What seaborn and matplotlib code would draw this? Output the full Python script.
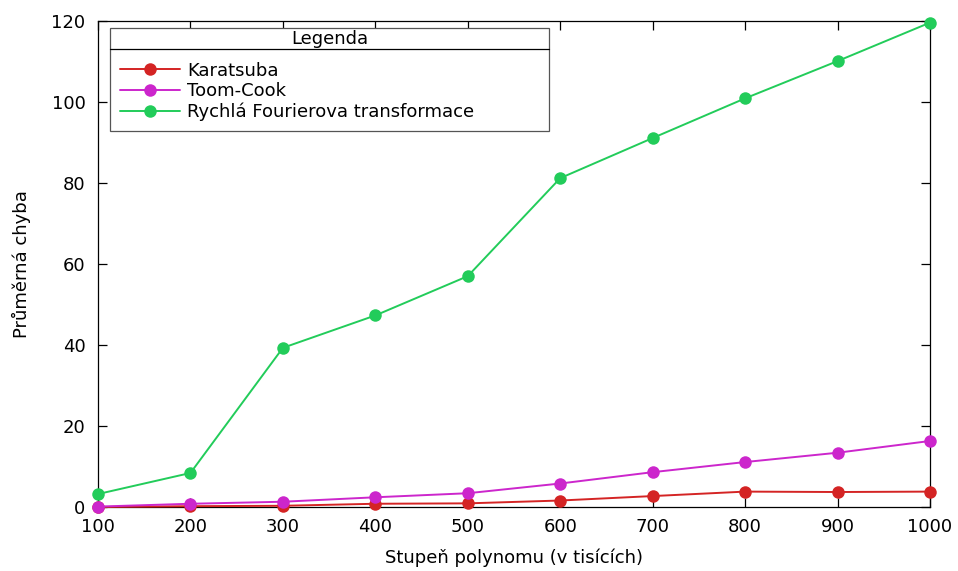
import numpy as np
import pandas as pd
import matplotlib
matplotlib.use("Agg")
import matplotlib.pyplot as plt
from matplotlib.lines import Line2D
from matplotlib.patches import Rectangle
import seaborn as sns

# Degree of the polynomial (thousands)
degrees = [100, 200, 300, 400, 500, 600, 700, 800, 900, 1000]

# Mean error per multiplication method
karatsuba = [0.0, 0.2, 0.3, 0.8, 0.9, 1.6, 2.7, 3.8, 3.7, 3.8]
toom_cook = [0.1, 0.8, 1.3, 2.4, 3.4, 5.8, 8.6, 11.1, 13.4, 16.3]
fft = [3.2, 8.4, 39.3, 47.3, 57.0, 81.2, 91.1, 100.9, 110.1, 119.6]

methods = ["Karatsuba", "Toom-Cook", "Rychlá Fourierova transformace"]
colors = ["#d42424", "#cc26cc", "#22cc5a"]

y_ticks = [0, 20, 40, 60, 80, 100, 120]

df = pd.DataFrame({
    "degree": degrees * 3,
    "error": karatsuba + toom_cook + fft,
    "method": sum([[m] * len(degrees) for m in methods], []),
})

sns.set_theme(style="ticks")
plt.rcParams.update({
    "font.family": ["DejaVu Sans"],
    "font.size": 13,
    "xtick.direction": "in",
    "ytick.direction": "in",
    "xtick.major.size": 6.5,
    "ytick.major.size": 6.5,
    "xtick.major.width": 0.9,
    "ytick.major.width": 0.9,
    "axes.linewidth": 0.9,
    "axes.edgecolor": "black",
    "xtick.color": "black",
    "ytick.color": "black",
    "text.color": "black",
    "axes.labelcolor": "black",
})

W, H = 958, 571
fig = plt.figure(figsize=(W / 100, H / 100), dpi=100)
ax = fig.add_axes([98 / W, 1 - 507 / H, (930 - 98) / W, (507 - 21) / H])


def fx(px):
    return px / W


def fy(py):
    return 1 - py / H


palette = dict(zip(methods, colors))
sns.lineplot(
    data=df, x="degree", y="error", hue="method", hue_order=methods,
    palette=palette, marker="o", markersize=9, markeredgewidth=0,
    linewidth=1.4, ax=ax, legend=False, clip_on=False, zorder=3,
)

ax.set_xlim(100, 1000)
ax.set_ylim(0, 120)
ax.set_xticks(degrees)
ax.set_yticks(y_ticks)
ax.tick_params(axis="both", labelsize=13, top=True, right=True)
ax.tick_params(axis="x", pad=8)
ax.tick_params(axis="y", pad=9)
ax.set_xlabel("Stupeň polynomu (v tisících)", fontsize=13, labelpad=9)
ax.set_ylabel("Průměrná chyba", fontsize=13, labelpad=15)
for s in ax.spines.values():
    s.set_visible(True)

# Legend box with a titled header row
fig.add_artist(Rectangle((fx(110), fy(131)), fx(549) - fx(110), fy(28) - fy(131),
                         transform=fig.transFigure, facecolor="white",
                         edgecolor="#555555", linewidth=0.9, zorder=5))
fig.add_artist(Line2D([fx(110), fx(549)], [fy(49), fy(49)],
                      transform=fig.transFigure, color="black", linewidth=0.9, zorder=6))
fig.text(fx(329.5), fy(39), "Legenda", ha="center", va="center", fontsize=13, zorder=6)

handles = [
    Line2D([], [], color=c, marker="o", markersize=9, markeredgewidth=0, linewidth=1.4)
    for c in colors
]
leg = fig.legend(
    handles, methods,
    loc="upper left",
    bbox_to_anchor=(fx(120), fy(61.5)),
    fontsize=13, frameon=False,
    handlelength=3.3, handletextpad=0.4, labelspacing=0.15, borderpad=0.0,
    borderaxespad=0.0,
)
leg.set_zorder(7)

fig.savefig("out.png", dpi=100)
